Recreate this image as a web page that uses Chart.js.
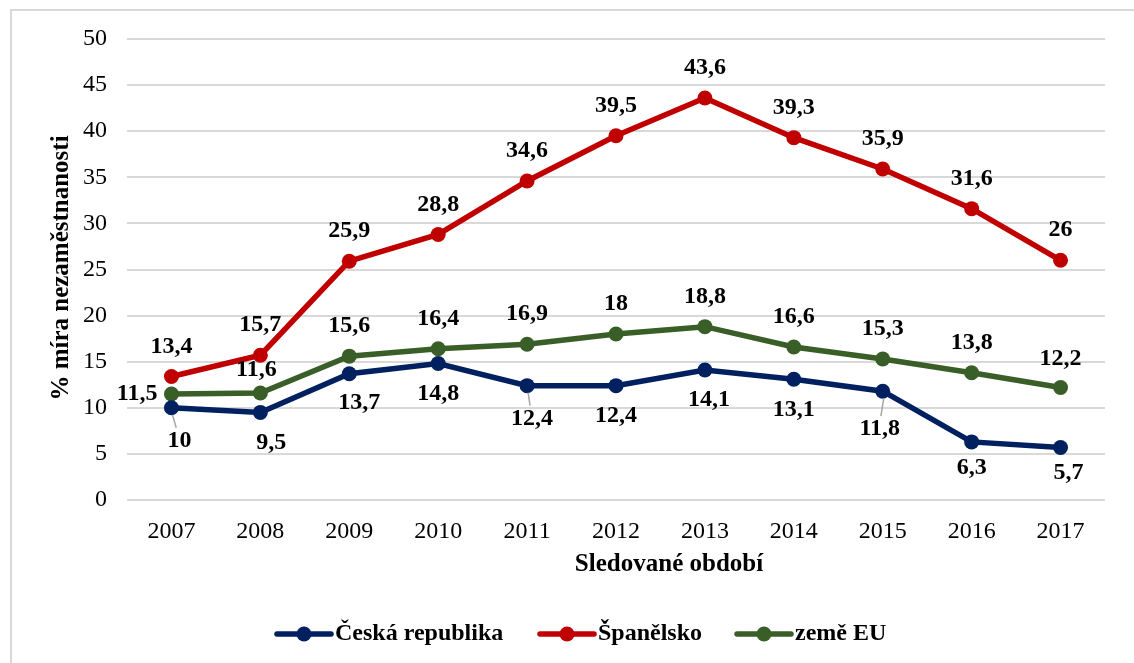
<!DOCTYPE html>
<html>
<head>
<meta charset="utf-8">
<script src="https://cdn.jsdelivr.net/npm/chart.js@4/dist/chart.umd.min.js"></script>
<style>
  html, body { margin: 0; padding: 0; background: #fff; }
  #wrap { width: 1134px; height: 663px; position: relative; }
</style>
</head>
<body>
<div id="wrap"><canvas id="chart"></canvas></div>
<script>
// data
const years = ['2007', '2008', '2009', '2010', '2011', '2012', '2013', '2014', '2015', '2016', '2017'];
const czech = [10, 9.5, 13.7, 14.8, 12.4, 12.4, 14.1, 13.1, 11.8, 6.3, 5.7];
const spain = [13.4, 15.7, 25.9, 28.8, 34.6, 39.5, 43.6, 39.3, 35.9, 31.6, 26];
const eu = [11.5, 11.6, 15.6, 16.4, 16.9, 18, 18.8, 16.6, 15.3, 13.8, 12.2];
const seriesNames = ['Česká republika', 'Španělsko', 'země EU'];

// label placement (style only)
const czechLabelDy = [33, 30, 29, 30, 33, 30, 30, 31, 38, 26, 25];
const czechLabelDx = [8, 11, 10, 0, 5, 0, 4, 0, -3, 0, 8];
const czechLeaders = [0, 4, 8];
const euLabelDy = [0, -23, -30, -30, -30, -30, -30, -30, -30, -30, -29];
const euLabelDx = [-14, -4, 0, 0, 0, 0, 0, 0, 0, 0, 0];

const colors = ['#002060', '#c00000', '#3a5e27'];
const serif = '"Liberation Serif", "Times New Roman", serif';

Chart.defaults.font.family = serif;
Chart.defaults.color = '#000';

const fmt = v => String(v).replace('.', ',');

const decorPlugin = {
    id: 'decor',
    beforeDraw(chart) {
        const ctx = chart.ctx;
        ctx.save();
        ctx.fillStyle = '#fff';
        ctx.fillRect(0, 0, chart.width, chart.height);
        ctx.strokeStyle = '#d9d9d9';
        ctx.lineWidth = 2;
        ctx.strokeRect(11, 10, 1300, 800);
        ctx.restore();
    },
    afterDatasetsDraw(chart) {
        const ctx = chart.ctx;
        ctx.save();
        ctx.font = 'bold 24px ' + serif;
        ctx.fillStyle = '#000';
        ctx.textBaseline = 'middle';

        // Česká republika - below the points
        const m0 = chart.getDatasetMeta(0);
        m0.data.forEach((p, i) => {
            const x = p.x + czechLabelDx[i], y = p.y + czechLabelDy[i];
            if (czechLeaders.includes(i)) {
                ctx.strokeStyle = '#a6a6a6';
                ctx.lineWidth = 1.5;
                ctx.beginPath();
                ctx.moveTo(p.x + 1, p.y + 7);
                ctx.lineTo(p.x + czechLabelDx[i] * 0.6, y - 13);
                ctx.stroke();
            }
            ctx.textAlign = 'center';
            ctx.fillText(fmt(czech[i]), x, y);
        });

        // Španělsko - above
        const m1 = chart.getDatasetMeta(1);
        m1.data.forEach((p, i) => {
            ctx.textAlign = 'center';
            ctx.fillText(fmt(spain[i]), p.x, p.y - 30);
        });

        // země EU - above, first one to the left
        const m2 = chart.getDatasetMeta(2);
        m2.data.forEach((p, i) => {
            ctx.textAlign = i === 0 ? 'right' : 'center';
            ctx.fillText(fmt(eu[i]), p.x + euLabelDx[i], p.y + euLabelDy[i]);
        });

        // axis titles
        ctx.font = 'bold 25px ' + serif;
        ctx.textAlign = 'center';
        ctx.fillText('Sledované období', 669, 565);
        ctx.translate(62, 268);
        ctx.rotate(-Math.PI / 2);
        ctx.fillText('% míra nezaměstnanosti', 0, 0);
        ctx.restore();

        // legend
        ctx.save();
        ctx.font = 'bold 24px ' + serif;
        ctx.textAlign = 'left';
        ctx.textBaseline = 'middle';
        const legendY = 634;
        const starts = [277, 540, 737];
        starts.forEach((x0, i) => {
            ctx.strokeStyle = colors[i];
            ctx.fillStyle = colors[i];
            ctx.lineWidth = 5.5;
            ctx.lineCap = 'round';
            ctx.beginPath();
            ctx.moveTo(x0, legendY);
            ctx.lineTo(x0 + 54, legendY);
            ctx.stroke();
            ctx.beginPath();
            ctx.arc(x0 + 27, legendY, 7.5, 0, Math.PI * 2);
            ctx.fill();
            ctx.fillStyle = '#000';
            ctx.fillText(seriesNames[i], x0 + 58, legendY);
        });
        ctx.restore();
    }
};

function lineSet(label, data, color) {
    return {
        label: label,
        data: data,
        borderColor: color,
        backgroundColor: color,
        borderWidth: 5.5,
        pointRadius: 7.5,
        pointHoverRadius: 7.5,
        pointBorderWidth: 0,
        pointBackgroundColor: color,
        tension: 0,
        fill: false
    };
}

new Chart(document.getElementById('chart').getContext('2d'), {
    type: 'line',
    data: {
        labels: years,
        datasets: [
            lineSet(seriesNames[0], czech, colors[0]),
            lineSet(seriesNames[1], spain, colors[1]),
            lineSet(seriesNames[2], eu, colors[2])
        ]
    },
    options: {
        responsive: true,
        maintainAspectRatio: false,
        animation: false,
        layout: { padding: { left: 0, top: 39, right: 29, bottom: 123 } },
        plugins: {
            legend: { display: false },
            tooltip: { enabled: false }
        },
        scales: {
            x: {
                offset: true,
                grid: { display: false },
                border: { display: false },
                ticks: { font: { size: 24 }, padding: 9, maxRotation: 0 },
                afterFit: s => { s.height = 40; }
            },
            y: {
                min: 0,
                max: 50,
                grid: { color: '#d9d9d9', lineWidth: 2, drawTicks: false },
                border: { display: false },
                ticks: { stepSize: 5, font: { size: 24 }, padding: 20 },
                afterFit: s => { s.width = 127; }
            }
        }
    },
    plugins: [decorPlugin]
});
</script>
</body>
</html>
